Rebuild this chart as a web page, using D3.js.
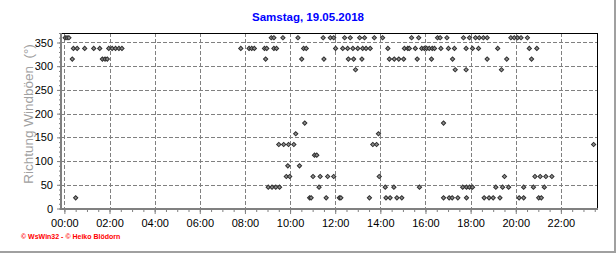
<!DOCTYPE html>
<html>
<head>
<meta charset="utf-8">
<script src="https://cdn.jsdelivr.net/npm/d3@7"></script>
<style>
  body { margin: 0; background: #fff; }
  svg { display: block; }
  text { font-family: "Liberation Sans", Arial, sans-serif; }
</style>
</head>
<body>
<svg id="chart" width="616" height="253"></svg>
<script>
// Samstag, 19.05.2018 - Richtung Windböen (Grad), Zeitpunkte je Richtung
var titel = "Samstag, 19.05.2018";
var yTicks = [0, 50, 100, 150, 200, 250, 300, 350];

var zeit360 = ["00:02","00:07","00:12","09:10","09:17","09:41","10:21","11:28","11:47","11:56","12:25","12:40","13:05","13:18","13:44","14:06","15:23","15:42","16:32","16:39","16:57","17:41","17:57","18:13","18:23","18:34","18:44","19:47","19:56","20:05","20:14","20:31"];
var zeit3375 = ["00:24","00:34","00:54","01:18","01:34","01:58","02:07","02:16","02:25","02:33","07:49","08:11","08:18","08:25","08:52","08:58","09:17","09:24","10:36","10:43","12:01","12:20","12:33","12:47","13:00","13:13","13:22","13:33","14:20","15:04","15:13","15:17","15:33","15:50","15:57","16:03","16:10","16:18","16:24","16:41","17:01","17:17","17:48","18:05","18:21","19:12","20:36","20:56"];
var zeit315 = ["00:21","01:41","01:48","01:54","08:55","10:31","11:30","12:35","12:49","13:11","14:24","14:37","14:49","15:02","15:38","16:16","17:12","18:44","19:36","20:42"];
var zeit2925 = ["12:54","17:19","17:48","19:22"];
var zeit180 = ["10:39","16:48"];
var zeit1575 = ["10:15","13:55"];
var zeit135 = ["09:30","09:43","09:56","10:10","13:40","13:50","23:27"];
var zeit1125 = ["11:05","11:11"];
var zeit90 = ["09:54","10:25"];
var zeit675 = ["09:50","09:59","11:01","11:20","11:40","11:56","13:57","19:30","20:51","21:05","21:20","21:36"];
var zeit45 = ["09:02","09:12","09:22","09:32","11:17","14:13","14:36","15:44","17:39","17:49","17:57","18:05","19:07","19:25","19:41","20:21","20:47","21:16"];
var zeit225 = ["00:30","10:52","10:56","11:36","12:11","12:15","13:31","14:15","14:26","14:44","14:57","16:48","17:03","17:11","17:26","17:49","18:36","18:49","19:00","19:18","20:09","20:21","21:01","21:08"];

var richtungen = [
  [360, zeit360], [337.5, zeit3375], [315, zeit315], [292.5, zeit2925],
  [180, zeit180], [157.5, zeit1575], [135, zeit135], [112.5, zeit1125],
  [90, zeit90], [67.5, zeit675], [45, zeit45], [22.5, zeit225]
];

var parseZeit = function(s) {
  var p = s.split(":");
  return new Date(2018, 4, 19, +p[0], +p[1]);
};

var punkte = [];
richtungen.forEach(function(r) {
  r[1].forEach(function(z) { punkte.push({t: parseZeit(z), v: r[0]}); });
});

var svg = d3.select("#chart");
var plotL = 61, plotR = 597, plotT = 33, plotB = 208.5;

var x = d3.scaleTime()
  .domain([new Date(2018, 4, 19, 0, -9), new Date(2018, 4, 19, 23, 36)])
  .range([plotL, plotR]);
var y = d3.scaleLinear().domain([0, 370]).range([plotB, plotT]);

// outer frame (right + bottom)
svg.append("line").attr("x1", 615).attr("x2", 615).attr("y1", 0).attr("y2", 253)
  .attr("stroke", "#a0a0a0").attr("stroke-width", 2);
svg.append("line").attr("x1", 0).attr("x2", 616).attr("y1", 252).attr("y2", 252)
  .attr("stroke", "#a0a0a0").attr("stroke-width", 2);

// title
svg.append("text").attr("x", 308).attr("y", 21).attr("text-anchor", "middle")
  .attr("font-size", "11.5px").attr("font-weight", "bold").attr("fill", "#0000ff")
  .text(titel);

// grid
var grid = svg.append("g").attr("stroke", "#808080").attr("stroke-dasharray", "4,2")
  .attr("shape-rendering", "crispEdges");
grid.selectAll(".gy").data(yTicks.slice(1)).join("line")
  .attr("x1", plotL).attr("x2", plotR)
  .attr("y1", function(d) { return Math.round(y(d)) + 0.5; })
  .attr("y2", function(d) { return Math.round(y(d)) + 0.5; });
var xMajor = d3.timeHour.every(2).range(new Date(2018, 4, 19, 0), new Date(2018, 4, 19, 23, 59));
grid.selectAll(".gx").data(xMajor).join("line")
  .attr("y1", plotT).attr("y2", plotB)
  .attr("x1", function(d) { return Math.round(x(d)) + 0.5; })
  .attr("x2", function(d) { return Math.round(x(d)) + 0.5; });

// plot frame top/right
svg.append("path").attr("d", "M" + plotL + "," + (plotT + 0.5) + "H" + (plotR + 0.5) + "V" + plotB)
  .attr("fill", "none").attr("stroke", "#000").attr("shape-rendering", "crispEdges");

// axes
var xAxis = d3.axisBottom(x).tickValues(xMajor).tickFormat(d3.timeFormat("%H:%M"))
  .tickSize(5).tickSizeOuter(0).tickPadding(5);
var xMinor = d3.axisBottom(x).ticks(d3.timeMinute.every(30)).tickFormat("").tickSize(3).tickSizeOuter(0);
var yAxis = d3.axisLeft(y).tickValues(yTicks).tickSize(4).tickSizeOuter(0).tickPadding(4);
var yMinor = d3.axisLeft(y).tickValues(d3.range(0, 371, 10)).tickFormat("").tickSize(2).tickSizeOuter(0);

var gx2 = svg.append("g").attr("transform", "translate(0,209)").call(xMinor);
var gx = svg.append("g").attr("transform", "translate(0,209)").call(xAxis);
var gy2 = svg.append("g").attr("transform", "translate(61,0)").call(yMinor);
var gy = svg.append("g").attr("transform", "translate(61,0)").call(yAxis);
[gx, gx2, gy, gy2].forEach(function(g) {
  g.select(".domain").remove();
  g.selectAll(".tick line").attr("stroke", "#808080");
  g.selectAll("text").attr("font-size", "11px").attr("fill", "#000")
    .attr("font-family", "'Liberation Sans', Arial, sans-serif");
});

svg.append("line").attr("x1", plotL).attr("x2", plotL).attr("y1", plotT).attr("y2", 210)
  .attr("stroke", "#808080").attr("stroke-width", 2);
svg.append("line").attr("x1", plotL - 1).attr("x2", plotR + 1).attr("y1", 209).attr("y2", 209)
  .attr("stroke", "#808080").attr("stroke-width", 2);

// y label
svg.append("text").attr("transform", "translate(28,114) rotate(-90)")
  .attr("text-anchor", "middle").attr("dominant-baseline", "central")
  .attr("font-size", "13.5px").attr("fill", "#a0a0a0").style("white-space", "pre")
  .text("Richtung Windböen  (°)");

// points
var raute = d3.symbol().type(d3.symbolSquare).size(9);
svg.append("g").selectAll("path").data(punkte).join("path")
  .attr("d", raute)
  .attr("transform", function(d) { return "translate(" + x(d.t) + "," + y(d.v) + ") rotate(45)"; })
  .attr("fill", "#909090").attr("stroke", "#303030").attr("stroke-width", 1);

// credits
svg.append("text").attr("x", 21).attr("y", 239)
  .attr("font-size", "7px").attr("font-weight", "bold").attr("fill", "#ff0000")
  .text("© WsWin32 - © Heiko Blödorn");
</script>
</body>
</html>
